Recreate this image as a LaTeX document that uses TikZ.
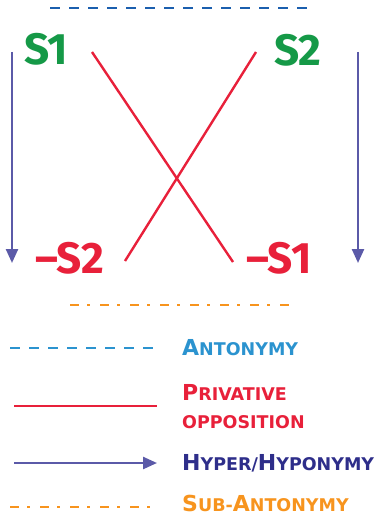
\documentclass[tikz,border=0pt]{standalone}
\usepackage{fontspec}
\setmainfont{Fira Sans}
\newfontfamily\legfont{DejaVu Sans}
\usetikzlibrary{arrows.meta}
\definecolor{sgreen}{HTML}{159947}
\definecolor{pred}{HTML}{E8203A}
\definecolor{hypo}{HTML}{5B5AA8}
\definecolor{antblue}{HTML}{1B5FAE}
\definecolor{legblue}{HTML}{2B93CF}
\definecolor{hyptext}{HTML}{2E2E8A}
\definecolor{suborange}{HTML}{F7941E}
\newcommand{\smc}[2]{{\fontsize{22}{22}\selectfont #1}{\fontsize{17.5}{17.5}\selectfont #2}}
\begin{document}
\begin{tikzpicture}[x=1pt, y=-1pt,
        every node/.style={inner sep=0pt, font=\bfseries},
        sense/.style={font=\fontsize{44}{44}\selectfont\bfseries},
        leg/.style={anchor=west, align=left, font=\legfont\bfseries},
        anto/.style={antblue, line width=2.6pt, dash pattern=on 10pt off 9pt},
        priv/.style={pred, line width=2.4pt},
        hyper/.style={hypo, line width=2.4pt, -{Triangle[width=12pt,length=14pt]}},
        subanto/.style={suborange, line width=2.6pt, dash pattern=on 9pt off 8pt on 3pt off 10pt}
    ]
    \useasboundingbox (0,0) rectangle (384,516);

    % senses
    \node (s1) [sense, sgreen] at (46,49) {S1};
    \node (s2) [sense, sgreen] at (298,50) {S2};
    \node (ns2) [sense, pred] at (70,258) {\textendash S2};
    \node (ns1) [sense, pred] at (279,258) {\textendash S1};

    % connector ends
    \coordinate (a1) at (50,8);
    \coordinate (a2) at (307,8);
    \coordinate (h1) at (12,52);
    \coordinate (h2) at (12,263);
    \coordinate (h3) at (358,52);
    \coordinate (h4) at (358,263);
    \coordinate (p1) at (92,52);
    \coordinate (p2) at (233,262);
    \coordinate (p3) at (256,52);
    \coordinate (p4) at (125,261);
    \coordinate (b1) at (70,305);
    \coordinate (b2) at (296,305);

    \draw [anto] (a1) -- (a2);
    \draw [hyper] (h1) -- (h2);
    \draw [hyper] (h3) -- (h4);
    \draw [priv] (p1) -- (p2);
    \draw [priv] (p3) -- (p4);
    \draw [subanto] (b1) -- (b2);

    % legend
    \node (l1) [leg, legblue] at (182,348) {\smc{A}{NTONYMY}};
    \node (l2) [leg, pred] at (182,407) {\smc{P}{RIVATIVE}\\[14pt]\smc{}{OPPOSITION}};
    \node (l3) [leg, hyptext] at (182,463) {\smc{H}{YPER/}\smc{H}{YPONYMY}};
    \node (l4) [leg, suborange] at (182,503) {\smc{S}{UB-}\smc{A}{NTONYMY}};

    \coordinate (k1) at (10,348);
    \coordinate (k2) at (157,348);
    \coordinate (k3) at (14,406);
    \coordinate (k4) at (157,406);
    \coordinate (k5) at (14,463);
    \coordinate (k6) at (157,463);
    \coordinate (k7) at (10,507);
    \coordinate (k8) at (150,507);

    \draw [anto, legblue] (k1) -- (k2);
    \draw [priv] (k3) -- (k4);
    \draw [hyper] (k5) -- (k6);
    \draw [subanto] (k7) -- (k8);
\end{tikzpicture}
\end{document}
